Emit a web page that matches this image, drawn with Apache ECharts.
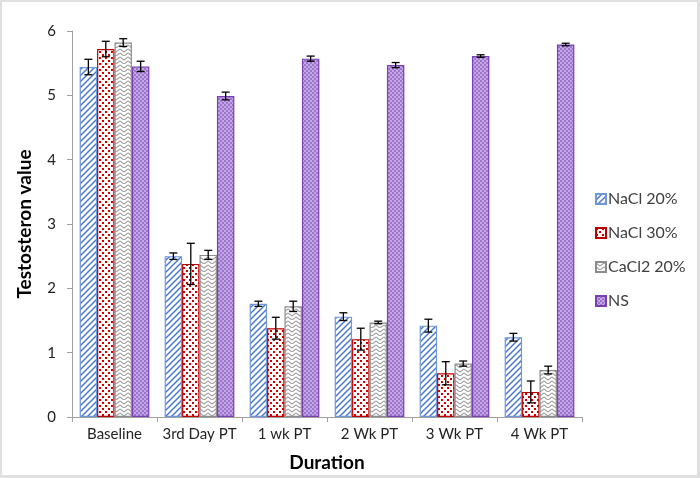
<!DOCTYPE html>
<html>
<head>
<meta charset="utf-8">
<script src="https://cdn.jsdelivr.net/npm/echarts@6/dist/echarts.min.js"></script>
<style>
    html, body { margin: 0; padding: 0; background: #fff; }
    #chart { width: 700px; height: 478px; }
</style>
</head>
<body>
<div id="chart"></div>
<script>
var categories = ['Baseline', '3rd Day PT', '1 wk PT', '2 Wk PT', '3 Wk PT', '4 Wk PT'];
var seriesNames = ['NaCl 20%', 'NaCl 30%', 'CaCl2 20%', 'NS'];

var nacl20 = [5.44, 2.50, 1.76, 1.56, 1.42, 1.24];
var nacl30 = [5.72, 2.38, 1.38, 1.21, 0.68, 0.39];
var cacl20 = [5.82, 2.52, 1.72, 1.47, 0.83, 0.73];
var ns = [5.45, 4.99, 5.57, 5.47, 5.61, 5.79];

var nacl20Err = [0.12, 0.05, 0.04, 0.06, 0.10, 0.06];
var nacl30Err = [0.12, 0.32, 0.17, 0.17, 0.18, 0.17];
var cacl20Err = [0.06, 0.07, 0.08, 0.02, 0.04, 0.06];
var nsErr = [0.08, 0.06, 0.04, 0.04, 0.02, 0.02];

var yTicks = [0, 1, 2, 3, 4, 5, 6];

// hatch patterns
function makePattern(w, h, draw) {
    var c = document.createElement('canvas');
    c.width = w; c.height = h;
    draw(c.getContext('2d'));
    return { image: c, repeat: 'repeat' };
}

var stripes = makePattern(6, 6, function (g) {
    g.fillStyle = '#fff'; g.fillRect(0, 0, 6, 6);
    g.strokeStyle = '#4a78cc'; g.lineWidth = 1.5;
    g.beginPath();
    g.moveTo(-1, 7); g.lineTo(7, -1);
    g.moveTo(-4, 4); g.lineTo(4, -4);
    g.moveTo(2, 10); g.lineTo(10, 2);
    g.stroke();
});

var dots = makePattern(6, 6, function (g) {
    g.fillStyle = '#fff'; g.fillRect(0, 0, 6, 6);
    g.fillStyle = '#d40000';
    g.fillRect(0, 0, 2, 2);
    g.fillRect(3, 3, 2, 2);
});

var zigzag = makePattern(8, 8, function (g) {
    g.fillStyle = '#fff'; g.fillRect(0, 0, 8, 8);
    g.strokeStyle = '#a6a6a6'; g.lineWidth = 1.2;
    g.beginPath();
    g.moveTo(0, 1); g.lineTo(4, 4); g.lineTo(8, 1);
    g.moveTo(0, 5); g.lineTo(4, 8); g.lineTo(8, 5);
    g.stroke();
});

var check = makePattern(4, 4, function (g) {
    g.fillStyle = '#c3a8e2'; g.fillRect(0, 0, 4, 4);
    g.fillStyle = '#9d74cf';
    g.fillRect(0, 0, 2, 2);
    g.fillRect(2, 2, 2, 2);
});

var fills = [stripes, dots, zigzag, check];
var borders = ['#6f98dc', '#c00000', '#8c8c8c', '#7a3fb0'];
var values = [nacl20, nacl30, cacl20, ns];
var errors = [nacl20Err, nacl30Err, cacl20Err, nsErr];

var catGap = 0.18;
var series = [];
values.forEach(function (v, i) {
    series.push({
        name: seriesNames[i],
        type: 'bar',
        data: v,
        barGap: '0%',
        barCategoryGap: (catGap * 100) + '%',
        itemStyle: { color: fills[i], borderColor: borders[i], borderWidth: 1.2 }
    });
});

values.forEach(function (v, i) {
    var errData = v.map(function (val, k) { return [k, val - errors[i][k], val + errors[i][k]]; });
    series.push({
        type: 'custom',
        z: 10,
        silent: true,
        data: errData,
        renderItem: function (params, api) {
            var k = api.value(0);
            var lo = api.coord([k, api.value(1)]);
            var hi = api.coord([k, api.value(2)]);
            var band = api.size([1, 0])[0];
            var inner = band * (1 - catGap);
            var x = lo[0] + inner * ((i + 0.5) / 4 - 0.5);
            var cap = 4;
            var st = { stroke: '#000', lineWidth: 1.3 };
            return {
                type: 'group',
                children: [
                    { type: 'line', shape: { x1: x, y1: lo[1], x2: x, y2: hi[1] }, style: st },
                    { type: 'line', shape: { x1: x - cap, y1: lo[1], x2: x + cap, y2: lo[1] }, style: st },
                    { type: 'line', shape: { x1: x - cap, y1: hi[1], x2: x + cap, y2: hi[1] }, style: st }
                ]
            };
        }
    });
});

var chart = echarts.init(document.getElementById('chart'));
var font = 'Lato, "Liberation Sans", sans-serif';
chart.setOption({
    animation: false,
    textStyle: { fontFamily: font },
    grid: { left: 72, right: 118, top: 31, bottom: 61 },
    legend: {
        data: seriesNames,
        orient: 'vertical',
        left: 590,
        top: 186,
        itemWidth: 10,
        itemHeight: 10,
        itemGap: 18,
        icon: 'rect',
        textStyle: { fontSize: 16, color: '#404040', fontFamily: font, padding: [0, 0, 0, -3] }
    },
    xAxis: {
        type: 'category',
        data: categories,
        name: 'Duration',
        nameLocation: 'middle',
        nameGap: 36,
        nameTextStyle: { fontSize: 19, fontWeight: 'bold', color: '#000', fontFamily: font },
        axisLine: { lineStyle: { color: '#a0a0a0' } },
        axisTick: { show: true, length: 5, lineStyle: { color: '#a0a0a0' } },
        axisLabel: { fontSize: 15, color: '#222', margin: 10, interval: 0 }
    },
    yAxis: {
        type: 'value',
        min: yTicks[0],
        max: yTicks[yTicks.length - 1],
        interval: 1,
        name: 'Testosteron value',
        nameLocation: 'middle',
        nameGap: 38,
        nameTextStyle: { fontSize: 19, fontWeight: 'bold', color: '#000', fontFamily: font },
        axisLine: { show: true, lineStyle: { color: '#a0a0a0' } },
        axisTick: { show: true, length: 5, lineStyle: { color: '#a0a0a0' } },
        splitLine: { show: false },
        axisLabel: { fontSize: 15, color: '#222', margin: 16 }
    },
    graphic: [
        { type: 'rect', shape: { x: 0, y: 0, width: 700, height: 2 }, style: { fill: '#e0e0e0' } },
        { type: 'rect', shape: { x: 0, y: 0, width: 2, height: 478 }, style: { fill: '#e0e0e0' } },
        { type: 'rect', shape: { x: 697, y: 0, width: 3, height: 478 }, style: { fill: '#e0e0e0' } },
        { type: 'rect', shape: { x: 0, y: 475, width: 700, height: 3 }, style: { fill: '#e0e0e0' } }
    ],
    series: series
});
</script>
</body>
</html>
